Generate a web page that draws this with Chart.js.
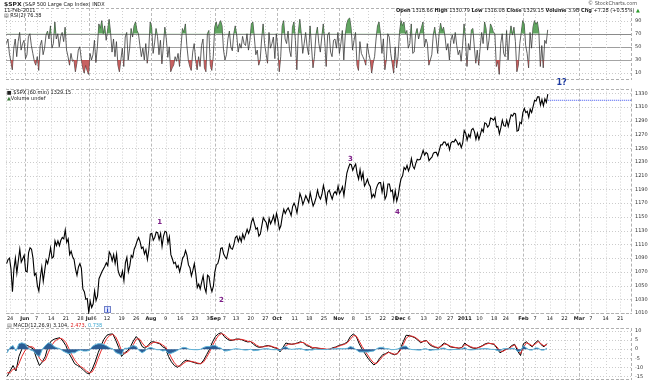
<!DOCTYPE html>
<html>
<head>
<meta charset="utf-8">
<script src="https://cdn.jsdelivr.net/npm/chart.js@4.4.0/dist/chart.umd.min.js"></script>
<style>
  body { margin: 0; background: #fff; }
  #wrap { position: relative; width: 652px; height: 389px; overflow: hidden; background: #fff; }
  canvas { position: absolute; left: 0; }
  #priceCanvas { top: 0; z-index: 1; }
  #rsiCanvas { top: 0; z-index: 2; }
  #macdCanvas { top: 322px; z-index: 1; }
  .t { position: absolute; z-index: 5; font-family: "DejaVu Sans", Verdana, sans-serif; font-size: 10px;
       line-height: 1; color: #222; white-space: nowrap; transform: scale(0.5); transform-origin: 0 0; }
  .t.r { transform-origin: 100% 0; }
  .b { font-weight: bold; }
</style>
</head>
<body>
<div id="wrap">
  <canvas id="priceCanvas" width="652" height="323"></canvas>
  <canvas id="rsiCanvas" width="652" height="89"></canvas>
  <canvas id="macdCanvas" width="652" height="67"></canvas>

  <div class="t" style="left:4px;top:1px"><span class="b" style="font-size:12px">$SPX</span> (S&amp;P 500 Large Cap Index) INDX</div>
  <div class="t" style="left:4px;top:7.5px">11-Feb-2011</div>
  <div class="t" style="left:4px;top:13px"><span style="color:#555">&#9636;</span> RSI(2) 76.38</div>
  <div class="t r" style="right:15px;top:1px;color:#555">&copy; StockCharts.com</div>
  <div class="t r" style="right:12px;top:7.5px"><b>Open</b> 1318.66 <b>High</b> 1330.79 <b>Low</b> 1316.08 <b>Close</b> 1329.15 <b>Volume</b> 3.9B <b>Chg</b> +7.28 (+0.55%) <span style="color:#2a9a2a">&#9650;</span></div>
  <div class="t" style="left:7px;top:90px"><span>&#9632;</span> $SPX (60 min) 1329.15</div>
  <div class="t" style="left:7px;top:95.5px"><span style="color:#3a7a3a">&#9650;</span>Volume undef</div>
  <div class="t" style="left:7px;top:323px"><span style="color:#555">&#9636;</span> MACD(12,26,9) 3.104, <span style="color:#e02020">2.473</span>, <span style="color:#3aa6d0">0.738</span></div>
</div>

<script>
// first session in the arrays is Fri 21-May-2010; day 0 = Mon 24-May-2010 (trading-day index)
const firstDay = -1;
const xMin = -1.4, xMax = 212;

// x axis: first session of each week, label text, month starts
const tickDays = [0, 5, 9, 14, 19, 24, 27, 29, 33, 38, 43, 48, 53, 58, 63, 68, 70, 73, 77, 82, 87, 91, 97, 102, 107,
  112, 117, 122, 127, 131, 133, 136, 141, 146, 150, 155, 160, 165, 169, 175, 179, 184, 189, 194, 198, 203, 208];
const tickLabels = ['24', 'Jun', '7', '14', '21', '28', 'Jul', '6', '12', '19', '26', 'Aug', '9', '16', '23', '30', 'Sep',
  '7', '13', '20', '27', 'Oct', '11', '18', '25', 'Nov', '8', '15', '22', '29', 'Dec', '6', '13', '20', '27', '2011',
  '10', '18', '24', 'Feb', '7', '14', '22', 'Mar', '7', '14', '21'];
const monthDays = [5, 27, 48, 70, 91, 112, 133, 155, 175, 194];

const priceTicks = [1010, 1020, 1030, 1040, 1050, 1060, 1070, 1080, 1090, 1100, 1110, 1120, 1130, 1140, 1150, 1160,
  1170, 1180, 1190, 1200, 1210, 1220, 1230, 1240, 1250, 1260, 1270, 1280, 1290, 1300, 1310, 1320, 1330];
const rsiTicks = [10, 30, 50, 70, 90];
const macdTicks = [10, 5, 0, -5, -10, -15];

// $SPX 60-min, two readings per session: intraday swing, then close
const spx = [
  1082,1088, 1090,1074, 1041,1074, 1090,1068, 1086,1103, 1084,1089, 1094,1071, 1070,1098, 1105,1103, 1090,1065,
  1068,1050, 1042,1062, 1077,1056, 1072,1087, 1082,1092, 1105,1090, 1092,1115, 1108,1115, 1108,1116, 1120,1118,
  1131,1113, 1118,1095, 1100,1092, 1088,1074, 1065,1077, 1082,1075, 1045,1041, 1030,1031, 1011,1027, 1018,1023,
  1042,1028, 1035,1060, 1065,1070, 1074,1078, 1083,1079, 1099,1095, 1086,1095, 1082,1096, 1072,1065, 1062,1071,
  1057,1083, 1091,1070, 1079,1094, 1091,1103, 1108,1115, 1120,1114, 1104,1106, 1096,1102, 1088,1102, 1125,1126,
  1116,1120, 1128,1127, 1117,1126, 1107,1122, 1129,1128, 1112,1121, 1095,1089, 1082,1084, 1076,1079, 1070,1079,
  1090,1093, 1101,1094, 1080,1076, 1064,1072, 1082,1067, 1047,1052, 1045,1055, 1064,1047, 1040,1065, 1063,1049,
  1041,1049, 1070,1080, 1082,1090, 1104,1105, 1096,1092, 1089,1099, 1110,1104, 1103,1110, 1120,1122, 1114,1121,
  1114,1125, 1118,1125, 1132,1126, 1132,1143, 1148,1140, 1132,1134, 1122,1125, 1137,1149, 1145,1142, 1132,1148,
  1140,1145, 1152,1141, 1155,1146, 1132,1137, 1151,1161, 1155,1160, 1163,1158, 1152,1165, 1170,1165, 1156,1170,
  1184,1178, 1168,1174, 1181,1176, 1171,1185, 1175,1166, 1171,1178, 1189,1180, 1176,1183, 1196,1186, 1171,1186,
  1189,1182, 1176,1184, 1187,1183, 1195,1184, 1188,1194, 1181,1198, 1214,1221, 1227,1226, 1218,1223, 1227,1213,
  1205,1219, 1205,1214, 1195,1199, 1205,1198, 1194,1178, 1183,1179, 1191,1197, 1200,1200, 1186,1198, 1176,1181,
  1198,1198, 1187,1189, 1174,1188, 1173,1181, 1196,1206, 1210,1222, 1219,1225, 1217,1223, 1235,1224, 1220,1228,
  1234,1233, 1234,1240, 1247,1240, 1244,1242, 1232,1235, 1237,1243, 1244,1244, 1239,1247, 1255,1255, 1259,1259,
  1254,1257, 1248,1258, 1260,1259, 1263,1260, 1255,1258, 1251,1258, 1276,1272, 1262,1270, 1266,1277, 1279,1274,
  1263,1272, 1263,1270, 1278,1274, 1287,1286, 1281,1284, 1294,1293, 1291,1295, 1281,1282, 1271,1280, 1291,1283,
  1282,1291, 1282,1291, 1299,1297, 1301,1300, 1275,1276, 1288,1286, 1302,1308, 1302,1304, 1295,1307, 1302,1311,
  1320,1319, 1325,1325, 1313,1321, 1312,1322, 1317,1329
];

// RSI(2), two readings per session
const rsi2 = [
  55,62, 40,28, 15,48, 62,35, 58,72, 45,55, 60,32, 38,66, 70,52, 40,28, 22,35, 14,52, 60,38, 48,68, 74,62,
  82,48, 55,88, 62,70, 50,66, 72,58, 80,45, 35,22, 40,28, 30,12, 25,45, 50,32, 18,10, 22,14, 8,40, 30,38,
  60,26, 50,85, 78,90, 70,82, 60,76, 92,72, 42,62, 35,58, 22,12, 30,48, 20,65, 72,30, 48,78, 65,82, 88,75,
  70,52, 35,48, 30,55, 25,45, 88,80, 40,56, 78,66, 38,60, 24,52, 80,62, 34,50, 12,18, 22,35, 28,40, 20,50,
  78,72, 85,52, 30,20, 14,42, 55,30, 15,35, 20,52, 62,18, 12,70, 75,22, 14,35, 80,88, 78,85, 90,82, 45,30,
  38,62, 74,50, 44,70, 82,68, 42,55, 48,66, 55,52, 70,45, 60,85, 88,65, 38,45, 22,30, 62,85, 55,40, 25,72,
  48,55, 65,32, 70,48, 12,35, 82,90, 62,55, 74,45, 35,80, 88,60, 15,72, 92,70, 40,55, 72,50, 38,82, 50,18,
  35,68, 80,55, 42,65, 85,58, 20,68, 72,42, 35,60, 62,48, 72,40, 55,75, 30,68, 85,92, 94,78, 45,60, 72,22,
  14,58, 40,35, 30,22, 55,40, 30,10, 25,35, 62,82, 88,70, 40,62, 15,30, 70,65, 40,25, 10,50, 18,35, 72,90,
  82,88, 70,75, 48,55, 85,40, 42,70, 78,62, 72,80, 88,50, 62,55, 22,30, 38,68, 80,62, 40,70, 86,74, 80,66,
  45,55, 30,60, 68,55, 72,52, 38,45, 28,52, 85,62, 20,55, 45,76, 78,50, 25,45, 22,50, 72,55, 88,78, 45,60,
  85,80, 72,70, 20,28, 8,55, 70,40, 35,75, 30,65, 82,68, 80,58, 12,22, 55,72, 90,85, 52,40, 18,72, 48,80,
  90,84, 88,72, 20,52, 18,60, 55,76
];

// MACD(12,26,9), one reading per session
const macdLine = [
  -15, -12, -9, -12, -4, 0, 2.5, 2, 1, 0, -5, -9, -7, -4, 2, 4.5, 5.5, 6, 6.3, 4.5,
  2, -2, -5, -8, -9, -10, -11.5, -13, -13.7, -11, -7, -2, 2, 5.5, 7.7, 8.3, 8.4, 5, 1, -4,
  -2, -1, 1.3, 4.5, 7, 5, 1.5, 0.5, 2, 4, 4.1, 3.5, 3, 1.3, 0.5, -4, -7, -9, -10, -9,
  -7, -6, -6.5, -7, -7.5, -8, -8, -6, -3, 0, 4, 7, 8.5, 9.1, 7, 5.6, 4.8, 5, 5.6, 5.6,
  5.2, 4.5, 4, 4.2, 2.7, 1.5, 1, 1.3, 1.8, 2, 1.5, 0.8, 0.5, -1.5, 1, 3.4, 3, 2.7, 3, 3.5,
  4.1, 3.5, 2, 1.5, 0.5, 0.8, 0.5, 0.3, 0, -0.2, 0, 0.8, 1.2, 2, 2.5, 3, 4.1, 7, 8.4, 7,
  3, 0, -2.5, -5, -7, -8.7, -7.5, -5, -3, -2.5, -1.5, -2.5, -3, -2.5, 0, 4.1, 7.7, 7.5, 7, 6.3,
  5, 3.5, 4.5, 4.8, 2.5, 1.5, 1, 0.5, 2, 3.4, 2.5, 1.3, 1, 0.8, 0.5, 1, 3.4, 2, 1, 0.5,
  0.5, 1.2, 2, 3, 3.4, 3, 2.7, 0.5, -2, -1, 0, 0.5, 2, 2.7, -1, -3.5, 3, 4.1, 2.5, 1.3,
  3.5, 4.8, 2.5, 1.3, 3.1
];
const signalLine = [
  -13, -13, -11, -11, -8, -4, -1, 1, 1.5, 1, -1.5, -5, -7, -6, -2, 1.5, 4, 5.3, 6, 5.5,
  3.8, 0.5, -3, -6, -8, -9.5, -10.5, -12, -13, -12.5, -9.5, -5, -1, 3, 6, 7.6, 8.2, 6.8, 3.5, -1,
  -2.5, -1.5, 0, 2.5, 5.5, 5.8, 3.5, 1.5, 1.5, 3, 3.8, 3.8, 3.3, 2.3, 1.2, -1.5, -4.8, -7.5, -9.3, -9.3,
  -8, -6.8, -6.5, -6.8, -7.2, -7.7, -8, -7, -4.5, -1.5, 2, 5, 7.5, 8.6, 8, 6.5, 5.3, 5, 5.3, 5.5,
  5.4, 5, 4.4, 4.2, 3.5, 2.2, 1.4, 1.2, 1.5, 1.8, 1.7, 1.1, 0.7, -0.5, 0, 2, 2.8, 2.8, 2.9, 3.2,
  3.7, 3.7, 2.7, 1.9, 1, 0.8, 0.6, 0.4, 0.2, 0, 0, 0.5, 1, 1.6, 2.2, 2.7, 3.6, 5.5, 7.5, 7.3,
  4.5, 1.5, -1, -3.5, -5.8, -7.7, -7.8, -6, -4, -2.8, -1.8, -2.2, -2.8, -2.6, -0.8, 2.5, 6, 7.3, 7.2, 6.6,
  5.5, 4, 4.3, 4.6, 3.2, 2, 1.3, 0.8, 1.5, 2.8, 2.7, 1.7, 1.2, 0.9, 0.6, 0.8, 2.5, 2.2, 1.4, 0.8,
  0.6, 1, 1.7, 2.6, 3.2, 3.1, 2.8, 1.2, -1, -1.2, -0.3, 0.3, 1.5, 2.4, 0.3, -2.5, 1, 3.5, 2.9, 1.8,
  2.8, 4.2, 3, 1.8, 2.5
];
const macdHist = [
  -2, 1, 2, -1, 3, 3.5, 3, 1, -0.5, -1, -3, -4, 0, 2, 3.5, 3, 1.5, 0.7, 0.3, -1,
  -1.8, -2.5, -2, -2, -1, -0.5, -1, -1, -0.7, 1.5, 2.5, 3, 3, 2.5, 1.7, 0.7, 0.2, -1.8, -2.5, -3,
  0.5, 0.5, 1.3, 2, 1.5, -0.8, -2, -1, 0.5, 1, 0.3, -0.3, -0.3, -1, -0.7, -2.5, -2.2, -1.5, -0.7, 0.3,
  1, 0.8, 0, -0.2, -0.3, -0.3, 0, 1, 1.5, 1.5, 2, 2, 1, 0.5, -1, -0.9, -0.5, 0, 0.3, 0.1,
  -0.2, -0.5, -0.4, 0, -0.8, -0.7, -0.4, 0.1, 0.3, 0.2, -0.2, -0.3, -0.2, -1, 1, 1.4, 0.2, -0.1, 0.1, 0.3,
  0.4, -0.2, -0.7, -0.4, -0.5, 0, -0.1, -0.1, -0.2, -0.2, 0, 0.3, 0.2, 0.4, 0.3, 0.3, 0.5, 1.5, 0.9, -0.3,
  -1.5, -1.5, -1.5, -1.5, -1.2, -1, 0.3, 1, 1, 0.3, 0.3, -0.3, -0.2, 0.1, 0.8, 1.6, 1.7, 0.2, -0.2, -0.3,
  -0.5, -0.5, 0.2, 0.2, -0.7, -0.5, -0.3, -0.3, 0.5, 0.6, -0.2, -0.4, -0.2, -0.1, -0.1, 0.2, 0.9, -0.2, -0.4, -0.3,
  -0.1, 0.2, 0.3, 0.4, 0.2, -0.1, -0.1, -0.7, -1, 0.2, 0.3, 0.2, 0.5, 0.3, -1.3, -1, 2, 0.6, -0.4, -0.5,
  0.7, 0.6, -0.5, -0.5, 0.6
];

// hand-drawn annotations on the price panel
const waveLabels = ['1', '2', '3', '4', '1?'];
const waveDays = [51, 72, 116, 132, 188];
const waveLevels = [1142, 1029, 1234, 1157, 1345];
const waveColors = ['#7b1d86', '#7b1d86', '#7b1d86', '#7b1d86', '#1d3aa0'];
const noteDay = 33;
const refLevel = 1320;

const FONT = '"DejaVu Sans", Verdana, sans-serif';

// two readings per session -> x in trading days
const twoPerDay = (arr, off) => arr.map((v, i) => ({ x: firstDay + Math.floor(i / 2) + (i % 2 ? off[1] : off[0]), y: v }));
const onePerDay = (arr) => arr.map((v, i) => ({ x: firstDay + i, y: v }));
const lastDay = firstDay + spx.length / 2 - 1;

const panelGrid = {
  id: 'panelGrid',
  beforeDatasetsDraw(chart, args, opts) {
    const { ctx, chartArea: a } = chart;
    const x = chart.scales.x, y = chart.scales.y;
    const line = (x1, y1, x2, y2, color, dash) => {
      ctx.beginPath();
      ctx.setLineDash(dash);
      ctx.strokeStyle = color;
      ctx.lineWidth = 1;
      ctx.moveTo(x1, y1);
      ctx.lineTo(x2, y2);
      ctx.stroke();
    };
    ctx.save();
    const solid = opts.solid || {};
    y.ticks.forEach(t => {
      const py = Math.round(y.getPixelForValue(t.value)) + 0.5;
      if (solid[t.value]) line(a.left, py, a.right, py, solid[t.value], []);
      else line(a.left, py, a.right, py, '#cbcbcb', [1, 2]);
    });
    tickDays.forEach(d => {
      const px = Math.round(x.getPixelForValue(d)) + 0.5;
      if (monthDays.includes(d)) line(px, a.top, px, a.bottom, '#bbbbbb', [3, 2]);
      else line(px, a.top, px, a.bottom, '#d0d0d0', [1, 2]);
    });
    const top = Math.round(a.top) + 0.5, bot = Math.round(a.bottom) - 0.5;
    line(a.left, top, a.right, top, '#b0b0b0', [3, 2]);
    line(a.left, bot, a.right, bot, '#b0b0b0', [3, 2]);
    line(Math.round(a.left) + 0.5, a.top, Math.round(a.left) + 0.5, a.bottom, '#c4c4c4', [1, 2]);
    line(Math.round(a.right) - 0.5, a.top, Math.round(a.right) - 0.5, a.bottom, '#b0b0b0', [3, 2]);
    ctx.restore();
  }
};

const notes = {
  id: 'notes',
  afterDatasetsDraw(chart) {
    const { ctx, chartArea: a } = chart;
    const x = chart.scales.x, y = chart.scales.y;
    ctx.save();
    ctx.textAlign = 'center';
    ctx.textBaseline = 'middle';
    waveLabels.forEach((lab, i) => {
      ctx.font = 'bold ' + (i === 4 ? 8 : 7) + 'px ' + FONT;
      ctx.fillStyle = waveColors[i];
      ctx.fillText(lab, x.getPixelForValue(waveDays[i]), y.getPixelForValue(waveLevels[i]));
    });
    // little note marker under the July low
    const nx = Math.round(x.getPixelForValue(noteDay));
    const ny = Math.round(a.bottom) - 8;
    ctx.fillStyle = '#dfe6ff';
    ctx.strokeStyle = '#7080c8';
    ctx.fillRect(nx - 3, ny, 7, 7);
    ctx.strokeRect(nx - 2.5, ny + 0.5, 6, 6);
    ctx.fillStyle = '#2a45c8';
    ctx.font = 'bold 6px ' + FONT;
    ctx.fillText('i', nx + 0.5, ny + 4);
    ctx.restore();
  }
};

function xAxis(showLabels) {
  return {
    type: 'linear', min: xMin, max: xMax,
    display: showLabels,
    grid: { display: false, drawTicks: false },
    border: { display: false },
    afterBuildTicks: s => { s.ticks = tickDays.map(v => ({ value: v })); },
    afterFit: s => { s.height = 9; },
    ticks: {
      autoSkip: false, maxRotation: 0, minRotation: 0, padding: 2, color: '#222',
      font: c => ({ family: FONT, size: 5, weight: (c.tick && monthDays.includes(c.tick.value)) ? 'bold' : 'normal' }),
      callback: v => tickLabels[tickDays.indexOf(v)]
    }
  };
}

function yAxis(min, max, ticks) {
  return {
    type: 'linear', position: 'right', min: min, max: max,
    grid: { display: false, drawTicks: false },
    border: { display: false },
    afterBuildTicks: s => { s.ticks = ticks.map(v => ({ value: v })); },
    afterFit: s => { s.width = 20; },
    ticks: { padding: 3, color: '#333', font: { family: FONT, size: 5 }, callback: v => String(v) }
  };
}

const base = {
  responsive: false, animation: false, devicePixelRatio: 1,
  elements: { point: { radius: 0 }, line: { tension: 0 } },
  plugins: { legend: { display: false }, tooltip: { enabled: false } }
};

// price panel
new Chart(document.getElementById('priceCanvas'), {
  type: 'line',
  data: {
    datasets: [
      { data: twoPerDay(spx, [-0.2, 0.3]), borderColor: '#000', borderWidth: 1.1, fill: false },
      { data: [{ x: lastDay + 0.3, y: refLevel }, { x: xMax, y: refLevel }], borderColor: '#3a4ff0',
        borderWidth: 1, borderDash: [1, 1], fill: false }
    ]
  },
  options: Object.assign({}, base, {
    layout: { padding: { top: 88.6, left: 6, right: 0, bottom: 0 } },
    scales: { x: xAxis(true), y: yAxis(1008.5, 1337, priceTicks) },
    plugins: Object.assign({}, base.plugins, { panelGrid: {} })
  }),
  plugins: [panelGrid, notes]
});

// RSI(2) panel
const rsiPts = twoPerDay(rsi2, [-0.25, 0.25]);
new Chart(document.getElementById('rsiCanvas'), {
  type: 'line',
  data: {
    datasets: [
      { data: rsiPts, borderWidth: 0, borderColor: 'rgba(0,0,0,0)',
        fill: { target: { value: 70 }, above: 'rgba(70,150,70,0.85)', below: 'rgba(0,0,0,0)' } },
      { data: rsiPts, borderWidth: 0, borderColor: 'rgba(0,0,0,0)',
        fill: { target: { value: 30 }, above: 'rgba(0,0,0,0)', below: 'rgba(190,70,70,0.85)' } },
      { data: rsiPts, borderColor: '#383838', borderWidth: 0.8, fill: false }
    ]
  },
  options: Object.assign({}, base, {
    layout: { padding: { top: 8, left: 6, right: 0, bottom: 0.4 } },
    scales: { x: xAxis(false), y: yAxis(0, 109.3, rsiTicks) },
    plugins: Object.assign({}, base.plugins, { panelGrid: { solid: { 70: '#8a8a8a', 50: '#9e9e9e', 30: '#a4a4a4' } } })
  }),
  plugins: [panelGrid]
});

// MACD panel
new Chart(document.getElementById('macdCanvas'), {
  type: 'line',
  data: {
    datasets: [
      { data: onePerDay(macdHist), borderColor: '#5fb4d8', borderWidth: 1, backgroundColor: '#2c5d94', fill: 'origin' },
      { data: onePerDay(signalLine), borderColor: '#e82a2a', borderWidth: 1, fill: false },
      { data: onePerDay(macdLine), borderColor: '#000', borderWidth: 1, fill: false }
    ]
  },
  options: Object.assign({}, base, {
    layout: { padding: { top: 0, left: 6, right: 0, bottom: 0 } },
    scales: { x: xAxis(false), y: yAxis(-17, 11.7, macdTicks) },
    plugins: Object.assign({}, base.plugins, { panelGrid: {} })
  }),
  plugins: [panelGrid]
});
</script>
</body>
</html>
